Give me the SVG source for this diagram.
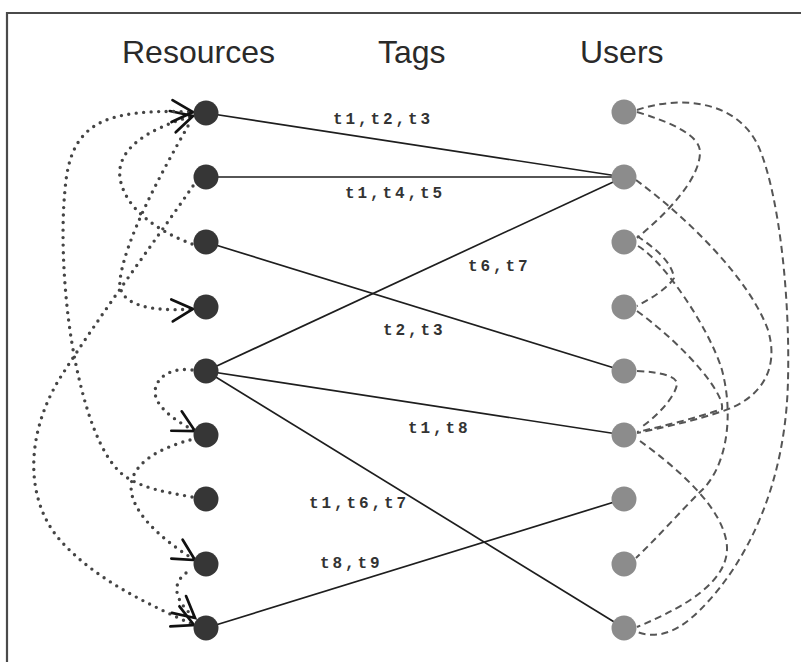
<svg xmlns="http://www.w3.org/2000/svg" width="801" height="662" viewBox="0 0 801 662">
<style>
.frame{stroke:#4a4a4a;stroke-width:2.2;fill:none}
.head{font-family:"Liberation Sans",Arial,sans-serif;font-size:32px;fill:#2a2a2a}
.lbl{font-family:"Liberation Mono","Courier New",monospace;font-size:16px;font-weight:bold;letter-spacing:2.9px;fill:#333}
.solid{stroke:#1e1e1e;stroke-width:1.7;fill:none}
.dot{stroke:#444;stroke-width:3.4;stroke-dasharray:0 7.5;stroke-linecap:round;fill:none}
.dash{stroke:#555;stroke-width:2;stroke-dasharray:7 4.5;fill:none}
.res{fill:#363636}
.usr{fill:#8c8c8c}
.ahp{stroke:#111;stroke-width:2.7;fill:none;stroke-linecap:round;stroke-linejoin:miter;stroke-dasharray:none}
</style>
<defs>
<marker id="ah" markerUnits="userSpaceOnUse" markerWidth="40" markerHeight="40" refX="0" refY="0" orient="auto" overflow="visible">
<path class="ahp" d="M-21,-11 L0,0 L-21,11"/>
</marker>
</defs>
<rect x="0" y="0" width="801" height="662" fill="#ffffff"/>
<g id="frame">
<line class="frame" x1="7" y1="13" x2="801" y2="13"/>
<line class="frame" x1="7" y1="12" x2="7" y2="662"/>
</g>
<g id="headings">
<text class="head" x="122" y="63">Resources</text>
<text class="head" x="378" y="63">Tags</text>
<text class="head" x="580" y="63">Users</text>
</g>
<g id="connectors">
<g id="tag-edges">
<line class="solid" x1="206" y1="113" x2="624" y2="177"/>
<line class="solid" x1="206" y1="177" x2="624" y2="177"/>
<line class="solid" x1="206" y1="242" x2="624" y2="371"/>
<line class="solid" x1="206" y1="371" x2="624" y2="177"/>
<line class="solid" x1="206" y1="371" x2="624" y2="435"/>
<line class="solid" x1="206" y1="371" x2="624" y2="628"/>
<line class="solid" x1="206" y1="628" x2="624" y2="499"/>
</g>
<g id="resource-links">
<path class="dot" marker-end="url(#ah)" d="M192,244 C160,232 125,210 120,178 C116,148 150,128 193,116"/>
<path class="dot" marker-end="url(#ah)" d="M188,126 C160,175 125,240 120,280 C117,305 150,312 193,309"/>
<path class="dot" marker-end="url(#ah)" d="M193,186 C150,248 100,315 60,378 C25,435 25,500 60,540 C95,580 150,605 194,625"/>
<path class="dot" marker-end="url(#ah)" d="M192,370 C165,366 148,385 158,402 C166,415 182,424 195,431"/>
<path class="dot" marker-end="url(#ah)" d="M190,440 C160,448 125,465 132,495 C138,520 170,545 195,560"/>
<path class="dot" marker-end="url(#ah)" d="M192,497 C165,492 140,488 122,474 C100,455 85,410 75,360 C65,310 60,240 65,190 C70,125 100,108 193,112"/>
<path class="dot" marker-end="url(#ah)" d="M186,573 C170,585 176,602 195,618"/>
</g>
<g id="user-links">
<path class="dash" d="M637,112 C670,122 700,135 700,152 C700,180 665,215 637,238"/>
<path class="dash" d="M637,110 C680,95 740,100 760,150 C780,200 790,300 788,380 C786,480 750,560 700,610 C680,630 660,640 637,632"/>
<path class="dash" d="M636,180 C690,220 750,280 768,330 C780,370 760,400 720,412 C690,422 660,428 637,433"/>
<path class="dash" d="M637,236 C655,248 672,262 674,278 C668,288 652,298 637,306"/>
<path class="dash" d="M638,246 C665,262 710,330 722,370 C735,420 725,470 700,492 C680,512 655,540 636,558"/>
<path class="dash" d="M637,311 C690,350 725,395 722,409 C700,417 660,427 637,432"/>
<path class="dash" d="M637,371 C660,372 677,376 677,384 C675,398 655,418 640,428"/>
<path class="dash" d="M640,441 C680,470 725,510 727,547 C728,580 690,605 637,627"/>
</g>
<g id="edge-labels">
<text class="lbl" x="333" y="124">t1,t2,t3</text>
<text class="lbl" x="345" y="198">t1,t4,t5</text>
<text class="lbl" x="468" y="271">t6,t7</text>
<text class="lbl" x="383" y="335">t2,t3</text>
<text class="lbl" x="408" y="433">t1,t8</text>
<text class="lbl" x="309" y="508">t1,t6,t7</text>
<text class="lbl" x="320" y="568">t8,t9</text>
</g>
</g>
<g id="resources">
<g id="r1"><circle class="res" cx="206" cy="113" r="12.5"/></g>
<g id="r2"><circle class="res" cx="206" cy="177" r="12.5"/></g>
<g id="r3"><circle class="res" cx="206" cy="242" r="12.5"/></g>
<g id="r4"><circle class="res" cx="206" cy="307" r="12.5"/></g>
<g id="r5"><circle class="res" cx="206" cy="371" r="12.5"/></g>
<g id="r6"><circle class="res" cx="206" cy="435" r="12.5"/></g>
<g id="r7"><circle class="res" cx="206" cy="499" r="12.5"/></g>
<g id="r8"><circle class="res" cx="206" cy="564" r="12.5"/></g>
<g id="r9"><circle class="res" cx="206" cy="628" r="12.5"/></g>
</g>
<g id="users">
<g id="u1"><circle class="usr" cx="624" cy="112" r="12.5"/></g>
<g id="u2"><circle class="usr" cx="624" cy="177" r="12.5"/></g>
<g id="u3"><circle class="usr" cx="624" cy="242" r="12.5"/></g>
<g id="u4"><circle class="usr" cx="624" cy="307" r="12.5"/></g>
<g id="u5"><circle class="usr" cx="624" cy="371" r="12.5"/></g>
<g id="u6"><circle class="usr" cx="624" cy="435" r="12.5"/></g>
<g id="u7"><circle class="usr" cx="624" cy="499" r="12.5"/></g>
<g id="u8"><circle class="usr" cx="624" cy="564" r="12.5"/></g>
<g id="u9"><circle class="usr" cx="624" cy="628" r="12.5"/></g>
</g>
</svg>
